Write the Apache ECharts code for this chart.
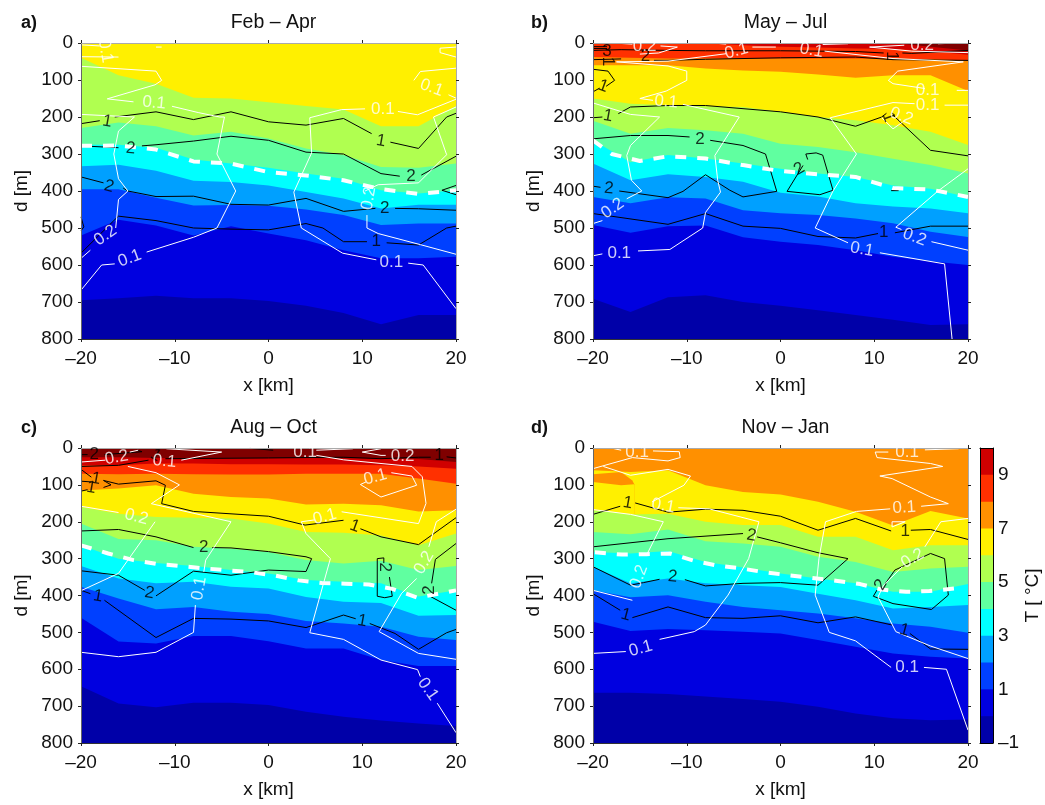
<!DOCTYPE html>
<html><head><meta charset="utf-8"><title>T sections</title>
<style>html,body{margin:0;padding:0;background:#fff}#c{width:1045px;height:805px}</style>
<script src="https://cdn.jsdelivr.net/npm/echarts@6/dist/echarts.min.js"></script></head>
<body><div id="c"></div><script>
const stations=[-20,-16,-12,-8,-4,0,4,8,12,16,20];
const titles=['Feb – Apr','May – Jul','Aug – Oct','Nov – Jan'];
const letters=['a)','b)','c)','d)'];
const levelColors={11:'#7f0000',10:'#d00000',9:'#ff3000',8:'#ff9000',7:'#fff000',6:'#b0ff50',5:'#60ffa0',4:'#00ffff',3:'#00a0ff',2:'#0040ff',1:'#0000e0',0:'#0000a8'};
const colorbarLevels=[10,9,8,7,6,5,4,3,2,1,0];

// isotherm depths [m] at the stations
const a6=[40,87,110,148,150,160,170,180,225,225,170];
const a5=[230,215,225,250,240,258,285,303,335,337,326];
const a4=[275,275,283,315,326,337,353,367,398,407,398];
const a3=[333,329,345,372,376,385,403,420,447,437,437];
const a2=[395,395,418,439,438,440,450,465,492,488,488];
const a1=[520,478,493,520,495,515,533,560,582,582,578];
const a0=[695,690,683,690,690,697,710,730,760,735,735];
const b10=[0,0,0,0,0,0,0,0,0,10,20];
const b9=[0,0,0,0,6,10,12,15,16,22,32];
const b8=[38,40,42,42,42,42,42,42,42,44,47];
const b7=[60,60,60,69,74,78,85,94,87,87,130];
const b6=[150,164,168,171,173,186,200,209,222,240,276];
const b5=[210,245,230,236,245,272,281,295,313,330,353];
const b4=[263,322,303,312,326,340,353,362,385,394,416];
const b3=[326,371,355,362,375,405,415,433,442,447,460];
const b2=[416,433,417,420,452,460,465,474,487,510,524];
const b1=[492,513,495,493,525,537,546,560,578,590,600];
const b0=[691,727,687,682,700,710,722,735,748,762,760];
const c10=[25,25,27,27,27,27,27,28,28,30,38];
const c9=[47,47,42,42,44,44,45,45,47,50,56];
const c8=[70,71,70,71,72,72,70,70,70,83,97];
const c7=[115,110,101,124,133,137,153,151,155,172,169];
const c6=[160,178,187,189,191,205,228,230,237,264,232];
const c5=[205,247,250,268,273,282,304,313,306,331,320];
const c4=[264,300,312,320,331,340,358,363,367,403,386];
const c3=[320,354,367,363,376,381,404,417,420,455,453];
const c2=[376,408,437,431,444,450,469,476,485,512,521];
const c1=[460,525,530,510,510,524,544,544,575,591,591];
const c0=[646,693,703,691,691,697,715,729,739,747,754];
const d7=[60,65,60,101,119,126,146,173,210,171,191];
const d7patchTop=[[-20,71],[-17,65],[-15.8,88],[-15.6,98]];
const d7patchBottom=[[-20,92],[-17,101],[-15.6,98]];
const d6=[169,180,178,200,209,209,241,241,277,264,264];
const d5=[228,234,221,253,259,268,295,309,336,327,322];
const d4=[282,286,279,309,324,340,354,367,390,390,369];
const d3=[322,367,354,367,372,377,395,413,435,431,426];
const d2=[386,405,399,417,431,440,449,462,476,485,501];
const d1=[471,496,491,494,498,503,521,539,557,566,571];
const d0=[664,664,667,674,681,688,702,720,733,738,736];

// dashed white line
const dashA=[[-20,278],[-16,277],[-12,288],[-8,320],[-4,326],[0,349],[4,358],[8,371],[12,395],[16,408],[20,398]];
const dashB=[[-20,263],[-18,300],[-15,319],[-12,306],[-8,312],[-4,330],[0,346],[4,355],[8,362],[12,392],[16,396],[20,416]];
const dashC=[[-20,264],[-17.1,286],[-14.4,304],[-12,314],[-9.5,320],[-7,326],[-4.3,332],[-1.8,337],[0.7,346],[3.2,359],[5.7,366],[8.2,368],[10.7,370],[13.2,382],[15.9,406],[18.4,394],[20,386]];
const dashD=[[-19.8,283],[-16.9,289],[-14.3,288],[-11.8,286],[-9.2,306],[-6.9,318],[-4.1,327],[-1.9,336],[0.8,345],[3.3,352],[5.9,360],[8.5,369],[10.8,384],[13.4,390],[15.9,388],[18.5,381]];

// black contours
const blackA=[
 [[-20,218],[-18,210]],
 [[-16.4,200],[-12,186],[-8,207],[-4,186],[0,213],[4,222],[8,204],[11,245]],
 [[13,268],[16,285],[19,200],[20,190]],
 [[-20,278],[-16,283]],
 [[-13.5,278],[-12,275],[-8,265],[-4,252],[0,263],[4,295],[8,300],[12,353],[14,360]],
 [[16.3,357],[20,306]],
 [[-20,362],[-17.6,378]],
 [[-15.5,392],[-15,400],[-12,415],[-8,414],[-4,436],[0,438],[4,420],[8,455],[11.4,447]],
 [[13.5,447],[16,448],[20,452]],
 [[18.5,398],[20,385]],[[18.5,398],[20,410]],
 [[-20,470],[-19.7,497],[-20,508]],
 [[-20,568],[-16.5,480],[-16,468],[-12,480],[-8,500],[-4,503],[0,505],[4,488],[5.8,500],[8,537],[10.5,537]],
 [[12.6,540],[16,546],[19,500],[20,495]]
];
const blackB=[
 [[-20,20],[-17,18],[-12,20],[-8,21],[0,21],[8,23],[11,27]],
 [[13,27],[14,28],[20,20]],
 [[-20,10],[-18.5,10]],[[-20,15],[-18.5,15]],
 [[-20,45],[-17,43]],
 [[-13.5,47],[-12,47],[-8,44],[-4,42],[0,40],[8,38],[12,45],[20,47]],
 [[-20,71],[-18.4,76],[-17.7,101],[-18.6,117]],[[-19.3,122],[-20,132]],
 [[-20,202],[-19,200]],[[-17.3,191],[-16,173],[-12,169],[-8,169],[0,186],[4,200],[8,225],[10.8,200],[11.3,190]],
 [[12,195],[16,290],[20,305]],
 [[-20,259],[-16,250],[-12,250],[-9.7,254]],
 [[-7.5,263],[-4,277],[-1.6,300],[-0.4,401],[-4,416],[-5.4,398],[-8,356],[-10.4,401],[-12,418],[-17.2,400]],
 [[-19.2,390],[-20,387]],
 [[2.9,315],[2.7,300],[3.8,297],[4.5,303],[5.6,398],[4.2,410],[0.7,401],[2.4,331]],
 [[11.8,399],[12.6,399]],
 [[-20,461],[-12,490],[-8,461],[-4,495],[0,501],[4,523],[8,527],[10.4,515]],
 [[12.2,513],[16,495],[20,495]]
];
const blackC=[
 [[-20,18],[-19.3,18]],[[-17.5,18],[-13.5,10],[-14,6]],
 [[-20,50],[-16,47],[-12.8,33]],
 [[-11,29],[0,27],[8,25],[12,29],[16,25],[17.3,25]],[[19,24],[20,27]],
 [[-2,1],[0.5,6]],
 [[-20,58],[-18.9,79]],[[-20,90],[-18.9,92]],[[-20,117],[-19.3,113]],
 [[-17.6,88],[-16,98],[-12,89],[-11,101],[-11.4,151],[-8,172],[0,185],[3.9,209],[8,196]],
 [[9.8,219],[12,241],[16,262],[20,189]],
 [[-17.6,88],[-16.8,100],[-17.6,107]],
 [[-20,225],[-16,221],[-12,241],[-8,270]],
 [[-6,270],[-4,271],[0,281],[4,295],[4.6,300],[4,335],[0,331],[-4,345],[-8,334],[-12,401]],
 [[-13.2,386],[-16,345],[-20,333]],
 [[12.3,312],[12.3,298],[11.6,300],[11.6,402],[12.4,406],[13.2,402],[12.9,350]],
 [[20,259],[17.8,302],[17.4,367]],[[17.3,403],[20,440]],
 [[-20,386],[-19,395]],[[-17.5,413],[-12,514],[-8,462],[-4,464],[0,469],[4,487],[8,453],[9.3,463]],
 [[10.8,476],[13.5,503],[16,546],[19,501],[20,492]]
];
const blackD=[
 [[-20,180],[-17.1,158]],
 [[-15.5,149],[-12,174],[-8,166],[-4,169],[0,185],[4,223],[8,191],[11.8,225]],
 [[13.9,223],[16,221],[20,248]],
 [[-20,268],[-12,246],[-4,232]],
 [[-2.5,241],[0,257],[4,284],[7.2,300],[4,372],[0,365],[-4,367],[-8,374],[-10.2,357]],
 [[-12.9,356],[-14.6,365],[-16,372],[-20,322]],
 [[11.2,367],[12.2,331],[16,286],[17.5,300],[17.9,399],[16.1,438],[12,422],[9.9,402],[10.3,385]],
 [[-20,395],[-17.1,440]],
 [[-15.8,460],[-12,431],[-8,460],[-4,462],[0,455],[4,474],[8,458],[11.9,480]],
 [[13.8,503],[16,545],[20,546]]
];

// white contours
const whiteA=[
 [[-20,5],[-18,8]],[[-16,38],[-20,37]],[[-12,11],[-11.4,11]],
 [[-20,63],[-12,76],[-11.4,101],[-12.1,113],[-17.2,151],[-14.4,159]],
 [[-10.3,171],[-7.5,188],[-5.2,200],[-4.7,200],[-5.5,300],[-3.5,400],[-5.5,500],[-8,525],[-13,565]],
 [[-16.4,597],[-17.8,600],[-20,668]],
 [[-20,193],[-14.3,200],[-16,238],[-16.5,300],[-16,367],[-15,400],[-16,423],[-16.3,500]],
 [[-19,560],[-20,582]],
 [[20,11],[18.3,14],[18.3,26],[20,38]],
 [[20,68],[16.2,77],[15.5,101]],[[19.2,140],[20,149]],
 [[20,152],[15.9,194],[13.8,185]],
 [[10.3,178],[7.8,180],[4.4,202],[4.6,297],[2.7,403],[3.5,500],[7.9,568],[11.5,586]],
 [[14.9,595],[16.5,600],[20,718]],
 [[20,173],[17.6,200],[19,302],[16,378],[11.7,383],[10.3,400]],
 [[10.5,465],[10.5,500],[11.7,515],[16.2,545],[20,571]]
];
const whiteB=[
 [[-17.2,1],[-15.8,3]],[[-12.8,8],[-11,11],[-13,27],[-15,30]],
 [[-7.2,0],[-5.8,3]],[[-3,11],[-0.5,11]],
 [[4.5,4],[7.2,2]],[[9.5,11],[13.2,6]],[[9.5,11],[14,22],[20,26]],[[16.8,2],[18,1]],
 [[-5.8,29],[-12,49],[-17.5,51],[-12,62],[-10,76],[-10,101],[-12.2,130],[-15,150],[-13.6,155]],
 [[-10.4,166],[-4.4,200],[-7,304],[-6.7,371],[-6.4,403],[-8,458],[-8.3,500],[-11.8,558],[-15.2,562]],
 [[-19,570],[-20,575]],
 [[4.7,22],[12,42],[19.5,51],[12.5,76],[11.5,101],[12,110],[15.4,123]],[[18.8,128],[20,128]],
 [[-20,162],[-16,193],[-12.9,200],[-16,277],[-16.4,304],[-15.9,371],[-14.8,400],[-16.4,421]],
 [[-19,480],[-20,488]],
 [[14.3,164],[12,161],[5.3,202],[8.1,300],[5.6,400],[3.7,500],[7.2,540]],
 [[17.5,168],[20,168]],[[10.6,567],[17.5,597],[18.3,800]],
 [[20,340],[16.8,400],[12.3,498],[12.9,504]],[[16.1,537],[20,560]],
 [[10.8,202],[12,232],[13,214]]
];
const whiteC=[
 [[-20,38],[-17.4,33]],[[-14.8,11],[-13.9,6]],
 [[-9.3,33],[-5,11],[-10.9,2]],
 [[-15,50],[-12,67],[-9.5,100],[-12.5,151],[-4,200],[-6.7,304],[-6.9,336]],
 [[-7.8,426],[-8,500],[-12,554],[-16,566],[-20,554]],
 [[5.1,6],[9,2]],[[10,11],[12,2]],[[10,11],[12,20],[12.5,20]],
 [[5.1,20],[8,32],[12,42],[15.3,50],[16.4,78],[16.8,150],[16,205],[7.8,173]],
 [[4.9,195],[3.5,200],[4,232],[6.6,300],[4.4,501],[8,519],[12,575],[15.9,601],[16.2,620]],
 [[18,692],[20,772]],
 [[13.1,67],[15.3,76],[15.8,101],[12,133],[9.8,99],[10.4,92]],
 [[20,166],[17.9,200],[17.1,268]],[[15.8,354],[14.2,394],[11.8,498],[16,557],[20,573]],
 [[-20,158],[-16,175]],[[-12.1,200],[-16,340],[-20,387]]
];
const whiteD=[
 [[-17.9,1],[-17,6]],[[-13.6,8],[-10.8,10],[-10.7,26],[-12,35],[-15.8,26],[-20,56]],
 [[-18.9,50],[-16,74],[-12,58],[-9.6,76],[-10.3,101],[-13.7,146]],
 [[-10.9,162],[-7.6,165],[-2.3,200],[-3.4,300],[-5.6,399],[-8,480],[-9.2,498],[-12.9,519]],
 [[-16.5,552],[-20,557]],
 [[-20,167],[-16,180],[-12.5,200],[-14.2,286]],[[-15.8,413],[-20,386]],
 [[15.4,5],[19,2]],
 [[11.5,11],[10.1,11],[10.3,26],[16,42],[17.3,50],[10.6,76],[11.9,83],[16,133],[17.9,151],[15,158]],
 [[11.7,165],[8.1,172],[4.8,200],[4.1,300],[3.7,399],[5.2,500],[8,523],[11.8,595]],
 [[15.3,595],[17.7,600],[20,765]],
 [[11.9,200],[13.3,200],[11.9,214],[11.9,200]],
 [[20,191],[17.1,200],[15.4,268]],[[13,322],[11,372],[10.4,404],[12.3,498],[16,537],[20,571]]
];

// contour labels: x, depth, text, angle
const blackLabelsA=[[-17.2,212,'1',-10],[-14.7,285,'2',-5],[-17,388,'2',-15],[12,265,'1',-10],[15.2,360,'2',0],[12.4,447,'2',0],[11.5,537,'1',0]];
const whiteLabelsA=[[-17.4,22,'0.1',-80],[-12.2,162,'0.1',-5],[-17.4,520,'0.2',35],[-14.8,582,'0.1',20],[12.2,180,'0.1',0],[17.4,121,'0.1',-20],[13.1,592,'0.1',0],[10.7,420,'0.2',80]];
const blackLabelsB=[[-18.5,22,'3',0],[-14.4,35,'2',0],[-18.4,50,'1',-90],[11.9,35,'1',-90],[-18.9,117,'1',-20],[-18.4,197,'1',-10],[-8.6,260,'2',0],[-18.3,393,'2',-5],[2,340,'2',30],[11,513,'1',0],[11.5,200,'1',-70]];
const whiteLabelsB=[[-14.5,10,'0.2',0],[-4.7,22,'0.1',15],[3.3,20,'0.1',-10],[15.1,6,'0.2',0],[-12.2,159,'0.1',-5],[15.7,128,'0.1',0],[15.7,168,'0.1',0],[-17.9,447,'0.2',35],[-17.2,568,'0.1',0],[8.7,558,'0.1',-10],[14.3,525,'0.2',-20],[12.9,198,'0.2',-20]];
const blackLabelsC=[[-18.6,18,'2',0],[-12,20,'1',-30],[18.2,20,'1',0],[-18.4,83,'1',-10],[-18.9,108,'1',-10],[9.2,212,'1',-20],[-6.9,270,'2',0],[-12.7,393,'2',-10],[12.4,323,'2',-90],[17.2,385,'2',90],[-18.2,402,'1',-10],[10,469,'1',-10]];
const whiteLabelsC=[[-16.2,26,'0.2',10],[-11.1,36,'0.1',-5],[3.9,11,'0.1',0],[14.3,23,'0.2',0],[11.4,79,'0.1',15],[6,187,'0.1',15],[-14.1,187,'0.2',-15],[-7.4,381,'0.1',80],[17,654,'0.1',-55],[16.6,311,'0.2',60]];
const blackLabelsD=[[-16.3,149,'1',-10],[13.3,225,'1',0],[-3.1,237,'2',-10],[-11.5,349,'2',-5],[10.7,371,'2',60],[-16.5,453,'1',-15],[13.2,494,'1',-15]];
const whiteLabelsD=[[-15.3,12,'0.1',0],[-12.5,157,'0.1',-10],[-14.9,544,'0.1',15],[-15.1,349,'0.2',70],[13.5,11,'0.1',0],[13.2,162,'0.1',3],[13.5,595,'0.1',0],[14.1,300,'0.2',30]];

const F='"Liberation Sans", Arial, sans-serif', FS=19;
const panels=[
 {rect:[81,43,375,296],top:7,bands:[[6,a6],[5,a5],[4,a4],[3,a3],[2,a2],[1,a1],[0,a0]],dash:dashA,black:blackA,white:whiteA,bl:blackLabelsA,wl:whiteLabelsA},
 {rect:[593,43,375,296],top:11,bands:[[10,b10],[9,b9],[8,b8],[7,b7],[6,b6],[5,b5],[4,b4],[3,b3],[2,b2],[1,b1],[0,b0]],dash:dashB,black:blackB,white:whiteB,bl:blackLabelsB,wl:whiteLabelsB},
 {rect:[81,448,375,295],top:11,bands:[[10,c10],[9,c9],[8,c8],[7,c7],[6,c6],[5,c5],[4,c4],[3,c3],[2,c2],[1,c1],[0,c0]],dash:dashC,black:blackC,white:whiteC,bl:blackLabelsC,wl:whiteLabelsC},
 {rect:[593,448,375,295],top:8,bands:[[7,d7],['p8',d7patchTop],['p7',d7patchBottom],[6,d6],[5,d5],[4,d4],[3,d3],[2,d2],[1,d1],[0,d0]],dash:dashD,black:blackD,white:whiteD,bl:blackLabelsD,wl:whiteLabelsD}
];
const grids=[],xAxes=[],yAxes=[],series=[],titleList=[];
const axisLine=c=>({show:true,onZero:false,lineStyle:{color:c,width:1}});
const minus=v=>String(v).replace('-','\u2013');
function flat(lines){const o=[];lines.forEach(l=>{l.forEach(p=>o.push(p));o.push(['-','-']);});return o;}
function labelSeries(list,color,xi,yi){
 return {type:'scatter',xAxisIndex:xi,yAxisIndex:yi,z:6,symbolSize:1,silent:true,clip:false,itemStyle:{color:'rgba(0,0,0,0)'},
  data:list.map(l=>({value:[l[0],l[1]],label:{show:true,position:'inside',formatter:l[2],rotate:l[3],color:color,fontSize:17,fontFamily:F,align:'center',verticalAlign:'middle'}}))};
}
panels.forEach((p,i)=>{
 const [l,t,w,h]=p.rect;
 grids.push({left:l,top:t,width:w,height:h,containLabel:false});
 const xi=xAxes.length, yi=yAxes.length;
 xAxes.push({gridIndex:i,type:'value',position:'bottom',min:-20,max:20,interval:10,z:5,name:'x [km]',nameLocation:'middle',nameGap:37,
  nameTextStyle:{fontFamily:F,fontSize:FS,color:'#111'},axisLine:axisLine('#333'),axisTick:{show:true,length:3,lineStyle:{color:'#222'}},splitLine:{show:false},
  axisLabel:{fontFamily:F,fontSize:FS,color:'#111',margin:10,formatter:minus,hideOverlap:false,showMinLabel:true,showMaxLabel:true}});
 xAxes.push({gridIndex:i,type:'value',position:'top',min:-20,max:20,interval:10,z:5,axisLine:axisLine('#aaa'),axisTick:{show:true,length:3,lineStyle:{color:'#222'}},splitLine:{show:false},axisLabel:{show:false}});
 yAxes.push({gridIndex:i,type:'value',position:'left',inverse:true,min:0,max:800,interval:100,z:5,name:'d [m]',nameLocation:'middle',nameGap:50,nameRotate:90,
  nameTextStyle:{fontFamily:F,fontSize:FS,color:'#111'},axisLine:axisLine('#666'),axisTick:{show:true,length:3,lineStyle:{color:'#222'}},splitLine:{show:false},
  axisLabel:{fontFamily:F,fontSize:FS,color:'#111',margin:8,showMinLabel:true,showMaxLabel:true}});
 yAxes.push({gridIndex:i,type:'value',position:'right',inverse:true,min:0,max:800,interval:100,z:5,axisLine:axisLine('#aaa'),axisTick:{show:true,length:3,lineStyle:{color:'#222'}},splitLine:{show:false},axisLabel:{show:false}});
 const area=(data,color)=>({type:'line',xAxisIndex:xi,yAxisIndex:yi,z:2,data,symbol:'none',silent:true,animation:false,lineStyle:{width:0},areaStyle:{color,opacity:1,origin:'end'},clip:true});
 series.push(area(stations.map(x=>[x,0]),levelColors[p.top]));
 p.bands.forEach(b=>{
  if(b[0]==='p8') series.push(area(b[1],levelColors[8]));
  else if(b[0]==='p7') series.push(area(b[1],levelColors[7]));
  else series.push(area(b[1].map((d,k)=>[stations[k],d]),levelColors[b[0]]));
 });
 const line=(data,color,width,type,z)=>({type:'line',xAxisIndex:xi,yAxisIndex:yi,z,data,symbol:'none',silent:true,connectNulls:false,lineStyle:{color,width,type:type||'solid'},clip:true});
 series.push(line(flat(p.black),'#000',1,null,3));
 series.push(line(flat(p.white),'#fff',1,null,3));
 series.push(line(p.dash,'#fff',4,[11,11],4));
 series.push(labelSeries(p.bl,'#000',xi,yi));
 series.push(labelSeries(p.wl,'#fff',xi,yi));
 titleList.push({text:titles[i],left:l+w/2,top:t-35,textAlign:'center',textStyle:{fontFamily:F,fontSize:19.5,fontWeight:'normal',color:'#111'}});
 titleList.push({text:letters[i],left:i%2?526:16,top:t-34,textStyle:{fontFamily:F,fontSize:18,fontWeight:'bold',color:'#111'}});
});
// colorbar
const cg=grids.length;
grids.push({left:980,top:448,width:13,height:295});
const cx=xAxes.length, cy=yAxes.length;
xAxes.push({gridIndex:cg,type:'value',min:0,max:1,z:5,axisLine:axisLine('#000'),axisTick:{show:false},axisLabel:{show:false},splitLine:{show:false}});
xAxes.push({gridIndex:cg,type:'value',position:'top',min:0,max:1,z:5,axisLine:axisLine('#000'),axisTick:{show:false},axisLabel:{show:false},splitLine:{show:false}});
yAxes.push({gridIndex:cg,type:'value',position:'left',min:-1,max:10,interval:1,z:5,axisLine:axisLine('#000'),axisTick:{show:false},axisLabel:{show:false},splitLine:{show:false}});
yAxes.push({gridIndex:cg,type:'value',position:'right',min:-1,max:10,interval:1,z:5,name:'T [ \u00b0C]',nameLocation:'middle',nameGap:26,nameRotate:90,
 nameTextStyle:{fontFamily:F,fontSize:FS,color:'#111'},axisLine:axisLine('#000'),axisTick:{show:false},splitLine:{show:false},
 axisLabel:{fontFamily:F,fontSize:FS,color:'#111',margin:5,showMinLabel:true,showMaxLabel:true,formatter:v=>(((v%2)+2)%2===1)?minus(v):''}});
colorbarLevels.forEach(v=>series.push({type:'line',xAxisIndex:cx,yAxisIndex:cy,z:2,symbol:'none',silent:true,lineStyle:{width:0},areaStyle:{color:levelColors[v],opacity:1,origin:'start'},data:[[0,v],[1,v]]}));

const chart=echarts.init(document.getElementById('c'),null,{renderer:'canvas'});
chart.setOption({animation:false,backgroundColor:'#fff',title:titleList,grid:grids,xAxis:xAxes,yAxis:yAxes,series});
</script></body></html>
